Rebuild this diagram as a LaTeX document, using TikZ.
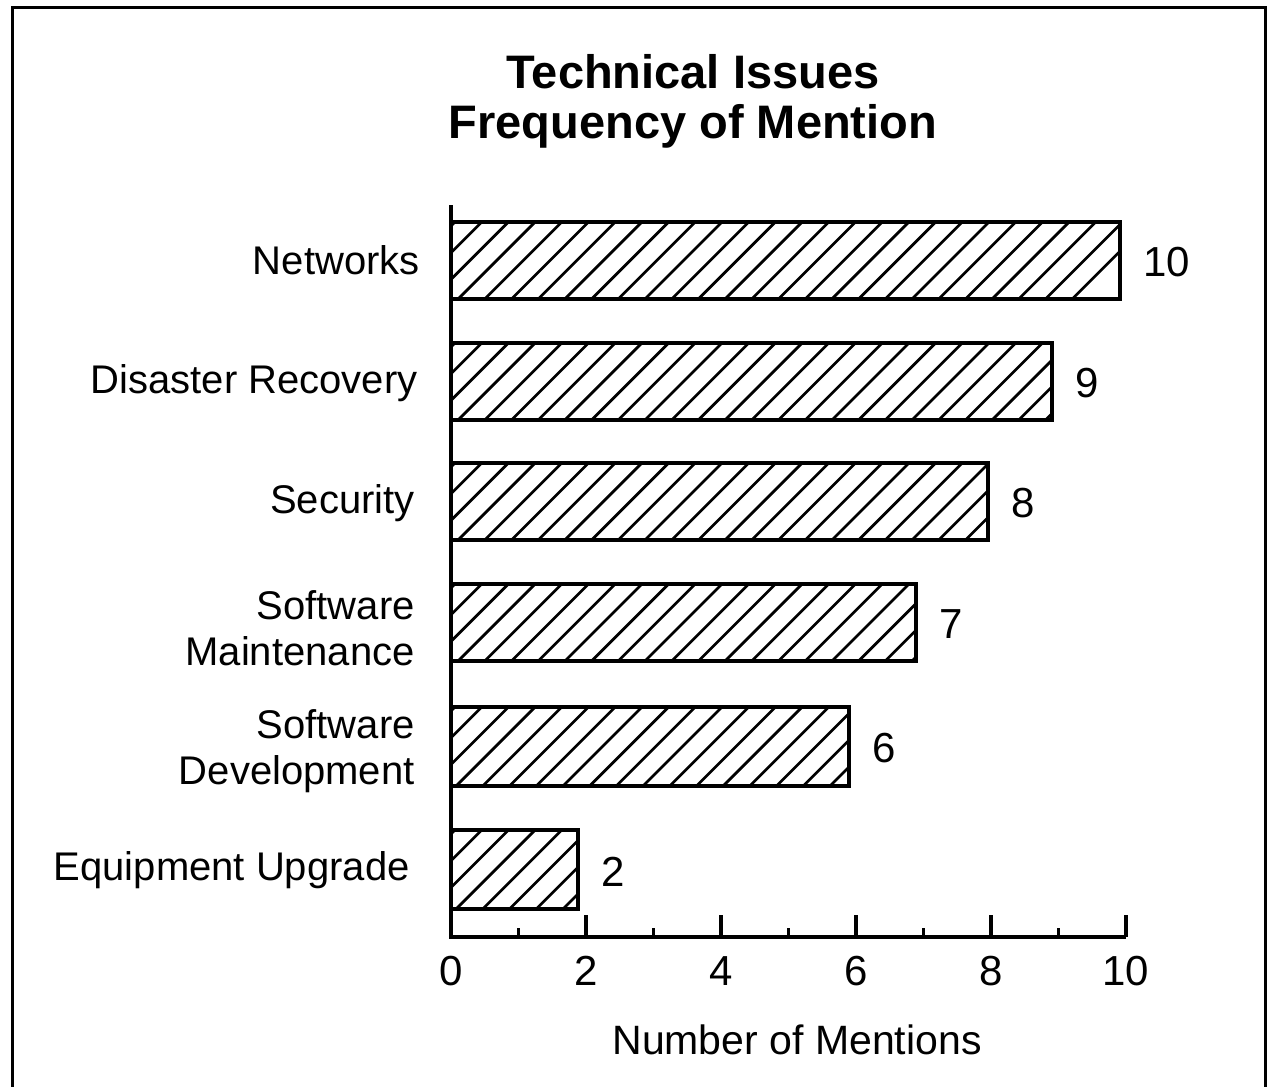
\documentclass[tikz,border=0pt]{standalone}
\usepackage{fontspec}
\setmainfont{Liberation Sans}
\usetikzlibrary{calc}
\begin{document}
\begin{tikzpicture}[x=0.5pt,y=-0.5pt,
  frameline/.style={line width=1.5pt,line cap=round},
  axisline/.style={line width=2pt},
  barbox/.style={line width=2pt},
  hatchline/.style={line width=1.35pt},
  catlabel/.style={anchor=east,align=right,font=\fontsize{20}{23}\selectfont,inner sep=0pt},
  vallabel/.style={anchor=west,font=\fontsize{21}{23}\selectfont,inner sep=0pt},
  ticklabel/.style={anchor=center,font=\fontsize{21}{23}\selectfont,inner sep=0pt},
  titletext/.style={anchor=center,align=center,font=\bfseries\fontsize{23.5}{25}\selectfont,inner sep=0pt}]
\useasboundingbox (0,0) rectangle (1271,1087);

% outer frame, open at the bottom
\draw[frameline] (12,1087) -- (12,7) -- (1265,7) -- (1265,1087);

% title
\node[titletext] (title) at (693,101) {Technical Issues\\Frequency of Mention};

% axes
\coordinate (origin) at (451,937);
\coordinate (ytop) at (451,205);
\coordinate (xend) at (1126,937);
\draw[axisline] (ytop) -- (origin) -- (xend);

% ticks: major at even values, minor at odd values
\foreach \v in {0,2,...,10} {
  \draw[axisline] ($(origin)+(67.5*\v,0)$) coordinate (t\v) -- ++(0,-22);
  \node[ticklabel] (tl\v) at ($(t\v)+(0,34)$) {\v};
}
\foreach \v in {1,3,...,9} {
  \draw[line width=1.5pt] ($(origin)+(67.5*\v,0)$) -- ++(0,-9);
}

\node[ticklabel,font=\fontsize{20.5}{23}\selectfont] (xlabel) at (797,1040) {Number of Mentions};

% bars: name / right edge / top / bottom / value
\foreach \n/\r/\t/\b/\val in {net/1120/222/299/10, dis/1052/343/420/9, sec/988/463/540/8,
                              sm/916/584/661/7, sd/849/707/786/6, eu/578/830/909/2} {
  \begin{scope}
    \clip (451,\t) rectangle (\r,\b);
    \foreach \k in {-4,...,26} {
      \draw[hatchline] (455+26.7*\k-\b+\t,\b) -- (455+26.7*\k,\t);
    }
  \end{scope}
  \draw[barbox] (451,\t) rectangle (\r,\b);
  \coordinate (\n-r) at (\r,{(\t+\b)/2});
  \node[vallabel] (\n-v) at ($(\n-r)+(23,2)$) {\val};
}

% category labels
\node[catlabel] (lnet) at (420,260) {Networks};
\node[catlabel] (ldis) at (418,383) {Disaster Recovery};
\node[catlabel] (lsec) at (415,503) {Security};
\node[catlabel] (lsm) at (415,628) {Software\\Maintenance};
\node[catlabel] (lsd) at (415,751) {Software\\Development};
\node[catlabel] (leu) at (410,870) {Equipment Upgrade};
\end{tikzpicture}
\end{document}
